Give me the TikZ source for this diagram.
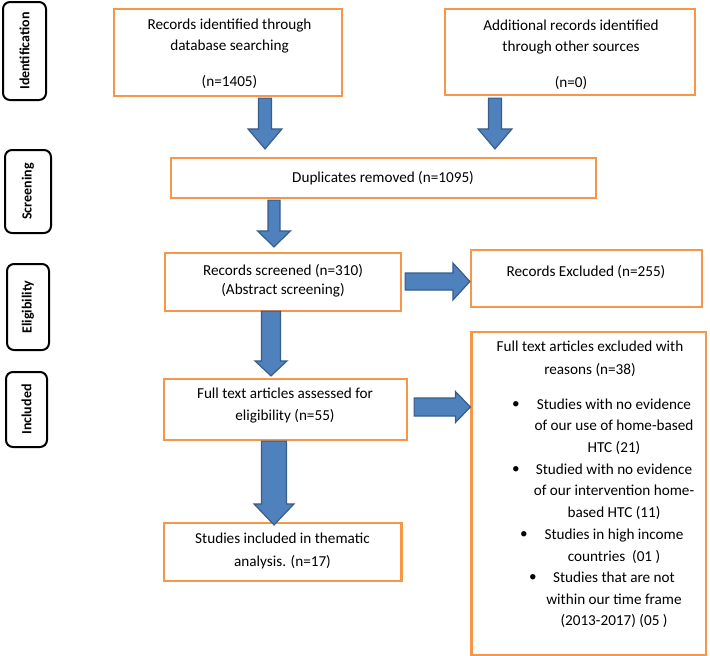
\documentclass[tikz,border=0pt]{standalone}
\usepackage{fontspec}
\setmainfont{Carlito}
\usetikzlibrary{calc}
\definecolor{boxorange}{HTML}{F79646}
\definecolor{arrowblue}{HTML}{4F81BD}
\definecolor{arrowedge}{HTML}{385D8A}
\newcommand\downblk[5]{%
  \draw[barrow] let \p1=(#1), \p2=(#2) in
  (\x1-#3pt,\y1) -- (\x1+#3pt,\y1) -- (\x1+#3pt,\y2+#5pt) -- (\x1+#4pt,\y2+#5pt)
  -- (\x1,\y2) -- (\x1-#4pt,\y2+#5pt) -- (\x1-#3pt,\y2+#5pt) -- cycle;}
\newcommand\rightblk[5]{%
  \draw[barrow] let \p1=(#1), \p2=(#2) in
  (\x1,\y1+#3pt) -- (\x2-#5pt,\y1+#3pt) -- (\x2-#5pt,\y1+#4pt) -- (\x2,\y1)
  -- (\x2-#5pt,\y1-#4pt) -- (\x2-#5pt,\y1-#3pt) -- (\x1,\y1-#3pt) -- cycle;}
\tikzset{
  obox/.style={draw=boxorange, line width=2.2pt, fill=white, inner sep=0pt},
  btext/.style={font=\fontsize{15.2}{21.5}\selectfont, align=center, inner sep=0pt},
  lbox/.style={draw=black, line width=2pt, rounded corners=7pt, inner sep=0pt},
  ltext/.style={font=\bfseries\fontsize{14}{16}\selectfont, rotate=90, inner sep=0pt},
  barrow/.style={fill=arrowblue, draw=arrowedge, line width=1.2pt, line join=miter},
  bul/.style={font=\fontsize{15.2}{21.5}\selectfont, inner sep=0pt},
}
\begin{document}
\begin{tikzpicture}[x=1pt, y=-1pt]
\useasboundingbox (0,0) rectangle (710,656);

% stage labels
\node[lbox, minimum width=43pt, minimum height=98pt] (l1) at (24.5,51) {};
\node[ltext] (l1t) at (l1.center) {Identification};
\node[lbox, minimum width=46pt, minimum height=83pt] (l2) at (28,191.5) {};
\node[ltext] (l2t) at (l2.center) {Screening};
\node[lbox, minimum width=42pt, minimum height=86pt] (l3) at (28,307) {};
\node[ltext] (l3t) at (l3.center) {Eligibility};
\node[lbox, minimum width=41pt, minimum height=75pt] (l4) at (26.5,409.5) {};
\node[ltext] (l4t) at (l4.center) {Included};

% boxes
\node[obox, minimum width=228pt, minimum height=87pt] (b1) at (228,52.5) {};
\node[btext] (b1t) at (229.5,54) {Records identified through\\database searching\\[14.5pt](n=1405)};
\node[obox, minimum width=250pt, minimum height=86pt] (b2) at (570,52) {};
\node[btext] (b2t) at (571,55) {Additional records identified\\through other sources\\[14.5pt](n=0)};
\node[obox, minimum width=425pt, minimum height=40pt] (dup) at (383.5,178) {};
\node[btext] (dupt) at (383,178) {Duplicates removed (n=1095)};
\node[obox, minimum width=236pt, minimum height=58pt] (scr) at (283,282) {};
\node[btext, font=\fontsize{15.2}{19}\selectfont] (scrt) at (283,280.5) {Records screened (n=310)\\(Abstract screening)};
\node[obox, minimum width=231pt, minimum height=57pt] (exc) at (586.5,278.5) {};
\node[btext] (exct) at (586,272) {Records Excluded (n=255)};
\node[obox, minimum width=243pt, minimum height=61pt] (full) at (285.5,409.5) {};
\node[btext, font=\fontsize{15.2}{22}\selectfont] (fullt) at (285,406) {Full text articles assessed for\\eligibility (n=55)};
\node[obox, minimum width=234.5pt, minimum height=323pt] (big) at (588.75,493.5) {};
\node[btext, font=\fontsize{15.2}{23}\selectfont] (bigh) at (590,358.5) {Full text articles excluded with\\reasons (n=38)};
\node[btext, font=\fontsize{15.2}{21.7}\selectfont] (i1) at (614,426.5) {Studies with no evidence\\of our use of home-based\\HTC (21)};
\node[btext, font=\fontsize{15.2}{21.7}\selectfont] (i2) at (614,491.5) {Studied with no evidence\\of our intervention home-\\based HTC (11)};
\node[btext, font=\fontsize{15.2}{21.7}\selectfont] (i3) at (614,546) {Studies in high income\\countries~~(01~)};
\node[btext, font=\fontsize{15.2}{21.7}\selectfont] (i4) at (614,600) {Studies that are not\\within our time frame\\(2013-2017) (05~)};
\node[bul] (u1) at (516,405) {\textbullet};
\node[bul] (u2) at (516,470) {\textbullet};
\node[bul] (u3) at (524,535) {\textbullet};
\node[bul] (u4) at (533,578) {\textbullet};
\node[obox, minimum width=237.5pt, minimum height=58pt] (inc) at (282.75,552) {};
\node[btext, font=\fontsize{15.2}{23}\selectfont] (inct) at (282.5,550.5) {Studies included in thematic\\analysis. (n=17)};

% block arrows
\coordinate (a1s) at ($(b1.south)+(37,1)$);
\coordinate (a1e) at ($(a1s |- dup.north)+(0,-8)$);
\downblk{a1s}{a1e}{6.5}{17}{20}
\coordinate (a2s) at ($(b2.south)+(-75,2)$);
\coordinate (a2e) at ($(a2s |- dup.north)+(0,-8)$);
\downblk{a2s}{a2e}{6.5}{17}{20}
\coordinate (a3s) at ($(dup.south)+(-109.5,1)$);
\coordinate (a3e) at ($(a3s |- scr.north)+(0,-5)$);
\downblk{a3s}{a3e}{6}{16.5}{16}
\coordinate (a4s) at ($(scr.east)+(3,-0.5)$);
\coordinate (a4e) at (a4s -| exc.west);
\rightblk{a4s}{a4e}{8.5}{18.5}{17}
\coordinate (a5s) at ($(scr.south)+(-12,-1)$);
\coordinate (a5e) at ($(a5s |- full.north)+(0,-2)$);
\downblk{a5s}{a5e}{9.5}{16}{15}
\coordinate (a6s) at ($(full.east)+(6,-2.5)$);
\coordinate (a6e) at (a6s -| big.west);
\rightblk{a6s}{a6e}{9}{15.5}{15}
\coordinate (a7s) at ($(full.south)+(-11.5,0)$);
\coordinate (a7e) at ($(a7s |- inc.north)+(0,3)$);
\downblk{a7s}{a7e}{12.5}{20}{21}
\end{tikzpicture}
\end{document}
